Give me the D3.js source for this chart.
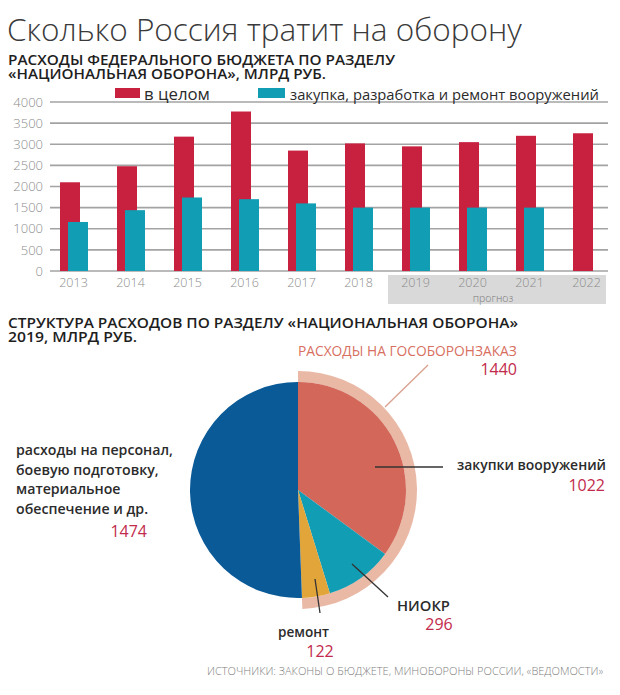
<!DOCTYPE html>
<html><head><meta charset="utf-8">
<script src="https://cdn.jsdelivr.net/npm/d3@7"></script>
<style>
html,body{margin:0;padding:0;background:#fff;}
svg{display:block;font-family:"Open Sans","Noto Sans",sans-serif;}
</style></head>
<body>
<svg id="chart" width="620" height="695"></svg>
<script>
// ---------- DATA ----------
const years = ["2013","2014","2015","2016","2017","2018","2019","2020","2021","2022"];
const totalSpending = [2100, 2480, 3180, 3775, 2850, 3020, 2950, 3050, 3200, 3260];
const armsSpending  = [1160, 1440, 1740, 1700, 1600, 1500, 1500, 1500, 1500, null];
const yTicks = [0, 500, 1000, 1500, 2000, 2500, 3000, 3500, 4000];
const forecastYears = ["2019","2020","2021","2022"];
const seriesNames = ["в целом", "закупка, разработка и ремонт вооружений"];

const pieNames  = ["закупки вооружений", "НИОКР", "ремонт", "расходы на персонал"];
const pieValues = [1022, 296, 122, 1474];
const goz = {name: "РАСХОДЫ НА ГОСОБОРОНЗАКАЗ", value: 1440};

// ---------- SETUP ----------
const svg = d3.select("#chart");
const C = {red:"#c8213f", teal:"#119db4", blue:"#0b5a98", salmon:"#d2675a", gold:"#e2a53a",
           ring:"#e9b9a6", num:"#c22a4c", grid:"#a3a3a3", tick:"#8c8c8c", text:"#2b2b2b"};

function fit(sel, width){
  const n = sel.node();
  const fs = parseFloat(sel.attr("font-size"));
  const w = n.getComputedTextLength();
  if (w > 0) sel.attr("font-size", (fs*width/w).toFixed(2));
  return sel;
}
function txt(x, y, s, o){
  const t = svg.append("text").attr("x", x).attr("y", y).text(s)
    .attr("font-size", o.size).attr("font-weight", o.weight || 400)
    .attr("fill", o.fill || C.text).attr("text-anchor", o.anchor || "start");
  if (o.width) fit(t, o.width);
  return t;
}
// multi-line heading: one text element, one tspan per line
function heading(x, lines, size){
  const t = svg.append("text").attr("font-size", size).attr("font-weight", 600).attr("fill", "#1e1e1e");
  lines.forEach(l => t.append("tspan").attr("x", x).attr("y", l.y).text(l.s)
    .attr("textLength", l.w).attr("lengthAdjust", "spacingAndGlyphs"));
  return t;
}

// ---------- TITLES ----------
txt(7, 41, "Сколько Россия тратит на оборону", {size:32, weight:300, fill:"#3a3a3a", width:515});
heading(8, [{s:"РАСХОДЫ ФЕДЕРАЛЬНОГО БЮДЖЕТА ПО РАЗДЕЛУ", y:65, w:387},
            {s:"«НАЦИОНАЛЬНАЯ ОБОРОНА», МЛРД РУБ.", y:79, w:318}], 14);

// ---------- BAR CHART ----------
const x = d3.scaleBand().domain(years).range([46, 616]).padding(0);
const y = d3.scaleLinear().domain([0, 4000]).range([271, 102]);

// forecast shading
const fx0 = x(forecastYears[0]), fx1 = x(forecastYears[forecastYears.length-1]) + x.bandwidth() - 10;
svg.append("rect").attr("x", fx0).attr("y", 275).attr("width", fx1 - fx0).attr("height", 29).attr("fill", "#d9d9d9");
svg.append("text").attr("x", (fx0+fx1)/2 - 4).attr("y", 302).attr("text-anchor","middle")
  .attr("font-size", 10.5).attr("font-weight", 300).attr("fill", "#7a7a7a").text("прогноз");

// grid
svg.append("g").selectAll("line").data(yTicks).join("line")
  .attr("x1", 50).attr("x2", 608).attr("y1", d => y(d)).attr("y2", d => y(d))
  .attr("stroke", C.grid).attr("stroke-width", 1.6);

// y axis labels
const yAxis = d3.axisLeft(y).tickValues(yTicks).tickSize(0).tickPadding(0).tickFormat(d3.format("d"));
const gy = svg.append("g").attr("transform", "translate(43,0)").call(yAxis);
gy.select(".domain").remove();
gy.selectAll("text").attr("font-size", 13).attr("font-weight", 300).attr("fill", C.tick)
  .attr("font-family", '"Open Sans",sans-serif');

// bars
const rows = years.map((yr, i) => ({yr, total: totalSpending[i], arms: armsSpending[i]}));
svg.append("g").selectAll("rect").data(rows).join("rect")
  .attr("x", d => x(d.yr) + 14).attr("width", 20)
  .attr("y", d => y(d.total)).attr("height", d => y(0) - y(d.total)).attr("fill", C.red);
svg.append("g").selectAll("rect").data(rows.filter(d => d.arms != null)).join("rect")
  .attr("x", d => x(d.yr) + 22).attr("width", 20)
  .attr("y", d => y(d.arms)).attr("height", d => y(0) - y(d.arms)).attr("fill", C.teal);

// x axis labels
const xAxis = d3.axisBottom(x).tickSize(0).tickPadding(0);
const gx = svg.append("g").attr("transform", "translate(-1,278)").call(xAxis);
gx.select(".domain").remove();
gx.selectAll("text").attr("font-size", 12.5).attr("font-weight", 300).attr("fill", C.tick)
  .attr("dy", "0.71em").attr("font-family", '"Open Sans",sans-serif');

// legend
svg.append("rect").attr("x", 115).attr("y", 88).attr("width", 25).attr("height", 10).attr("fill", C.red);
txt(144, 100, seriesNames[0], {size:15, weight:500, width:66});
svg.append("rect").attr("x", 258).attr("y", 88).attr("width", 27).attr("height", 10).attr("fill", C.teal);
txt(290, 100, seriesNames[1], {size:15, weight:500, width:309});

// ---------- PIE ----------
heading(8, [{s:"СТРУКТУРА РАСХОДОВ ПО РАЗДЕЛУ «НАЦИОНАЛЬНАЯ ОБОРОНА»", y:328, w:510},
            {s:"2019, МЛРД РУБ.", y:342, w:129}], 14);

const cx = 298, cy = 490, R = 108;
const pie = d3.pie().sort(null).value(d => d);
const arcs = pie(pieValues);
const arc = d3.arc().innerRadius(0).outerRadius(R);
const pieColors = [C.salmon, C.teal, C.gold, C.blue];
const gp = svg.append("g").attr("transform", `translate(${cx},${cy})`);

const ringArcs = pie([goz.value, pieValues[3]]);
gp.append("path").attr("d", d3.arc().innerRadius(R).outerRadius(R + 11)(ringArcs[0])).attr("fill", C.ring);
gp.selectAll("path.slice").data(arcs).join("path").attr("class","slice")
  .attr("d", arc).attr("fill", (d, i) => pieColors[i]);

// leader lines (relative to pie centre)
const lead = (x1, y1, x2, y2, col, w) => svg.append("line")
  .attr("x1", cx + x1).attr("y1", cy + y1).attr("x2", cx + x2).attr("y2", cy + y2)
  .attr("stroke", col).attr("stroke-width", w);
lead(77, -23, 145, -23, "#333", 1.3);
lead(54, 74, 90, 107, "#333", 1.3);
lead(17, 89, 22, 123, "#333", 1.3);
lead(87, -83, 130, -125, "#d9a08e", 1.3);

// labels
txt(298, 356, goz.name, {size:14, weight:400, fill:"#d86f5f", width:219});
txt(517, 375, goz.value, {size:16, weight:400, fill:C.num, anchor:"end"});

txt(606, 470, pieNames[0], {size:15, weight:600, anchor:"end", width:149});
txt(605, 491, pieValues[0], {size:16, weight:400, fill:C.num, anchor:"end"});

txt(397, 611, pieNames[1], {size:17, weight:600, width:53});
txt(439, 630, pieValues[1], {size:16, weight:400, fill:C.num, anchor:"middle"});

txt(278, 637, "ремонт", {size:15, weight:600, width:51});
txt(320, 657, pieValues[2], {size:16, weight:400, fill:C.num, anchor:"middle"});

const persLines = ["расходы на персонал,", "боевую подготовку,", "материальное", "обеспечение и др."];
const persText = persLines.map((s, i) => txt(16, 455 + i*19.5, s, {size:15, weight:600}));
fit(persText[0], 157);
persText.forEach(t => t.attr("font-size", persText[0].attr("font-size")));
txt(147, 537, pieValues[3], {size:16, weight:400, fill:C.num, anchor:"end"});

// source
txt(207, 675, "ИСТОЧНИКИ: ЗАКОНЫ О БЮДЖЕТЕ, МИНОБОРОНЫ РОССИИ, «ВЕДОМОСТИ»", {size:12, weight:300, fill:"#808080", width:396});
</script>
</body></html>
